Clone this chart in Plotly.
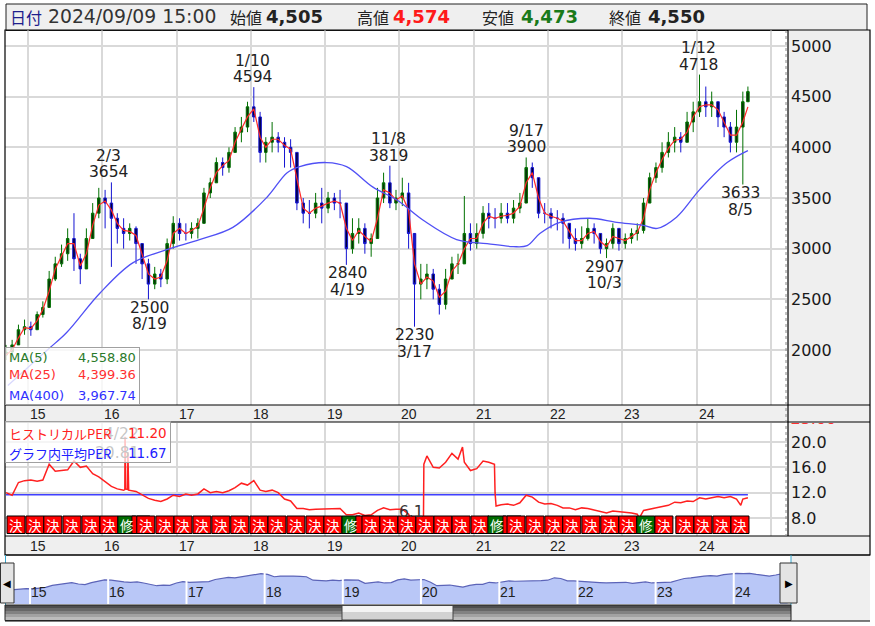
import pandas as pd
import plotly.graph_objects as go

W, H = 875, 626

# ---------------- data ----------------
header_date = "2024/09/09 15:00"
header_open, header_high, header_low, header_close = 4505, 4574, 4473, 4550

first_month_mid = "2014-09-15"
last_trade_date = "2024-09-09"
first_open = 1950

close_px = [
    1980, 2050, 2200, 2230,
    2200, 2350, 2420, 2700, 2850, 2950, 3100, 2900, 2800, 3100, 3350, 3500,
    3450, 3300, 3200, 3150, 3200, 3050, 2850, 2650, 2750, 2700, 3050, 3250,
    3150, 3150, 3200, 3250, 3550, 3650, 3850, 3800, 3950, 4150, 4200, 4400,
    4300, 3950, 4050, 4100, 4050, 4000, 3950, 3450, 3350, 3350, 3450, 3400,
    3500, 3450, 3450, 3000, 3150, 3200, 3050, 3100, 3500, 3650, 3450, 3500,
    3550, 3150, 2650, 2700, 2750, 2600, 2450, 2700, 2850, 2850, 3150, 3050,
    3150, 3350, 3300, 3300, 3350, 3300, 3400, 3450, 3800, 3700, 3350, 3350,
    3300, 3300, 3250, 3100, 3050, 3100, 3200, 3150, 3000, 3050, 3200, 3050,
    3100, 3150, 3180, 3450, 3700, 3800, 3950, 4050, 4100, 4050, 4250, 4350,
    4450, 4400, 4450, 4300, 4200, 4050, 4200, 4450, 4550]
high_px = [
    2050, 2100, 2250, 2300,
    2280, 2380, 2480, 2780, 2920, 3040, 3200, 3350, 2950, 3200, 3450, 3600,
    3580, 3654, 3350, 3300, 3250, 3220, 3050, 2900, 2820, 2800, 3100, 3320,
    3300, 3250, 3260, 3300, 3600, 3700, 3900, 3900, 4000, 4200, 4300, 4450,
    4594, 4350, 4100, 4250, 4150, 4100, 4080, 3950, 3500, 3480, 3550, 3600,
    3560, 3550, 3580, 3450, 3300, 3300, 3250, 3150, 3600, 3750, 3819, 3580,
    3700, 3650, 3000, 2850, 2850, 2800, 2650, 2800, 2920, 2950, 3520, 3250,
    3250, 3420, 3450, 3400, 3450, 3450, 3480, 3550, 3900, 3850, 3700, 3450,
    3400, 3380, 3350, 3250, 3200, 3220, 3300, 3250, 3150, 3100, 3250, 3200,
    3150, 3200, 3250, 3500, 3750, 3850, 4050, 4150, 4200, 4150, 4350, 4450,
    4718, 4600, 4550, 4450, 4350, 4250, 4370, 4550, 4600]
low_px = [
    1900, 1900, 2050, 2150,
    2140, 2200, 2320, 2420, 2680, 2820, 2880, 2780, 2650, 2850, 3100, 3300,
    3200, 2820, 3050, 3000, 3080, 2850, 2700, 2500, 2600, 2620, 2650, 3000,
    3080, 3080, 3100, 3100, 3250, 3500, 3650, 3720, 3750, 3950, 4050, 4150,
    4250, 3850, 3850, 3950, 3950, 3800, 3800, 3380, 3250, 3200, 3300, 3250,
    3350, 3380, 3300, 2840, 2950, 3050, 2950, 2920, 3100, 3450, 3400, 3380,
    3420, 3000, 2230, 2500, 2600, 2500, 2350, 2400, 2700, 2750, 2900, 2980,
    3000, 3100, 3200, 3200, 3250, 3250, 3250, 3350, 3450, 3600, 3300, 3250,
    3200, 3180, 3050, 3000, 2980, 3000, 3080, 3050, 2950, 2907, 3000, 2980,
    3000, 3050, 3080, 3150, 3450, 3650, 3750, 3900, 3950, 3950, 4050, 4150,
    4300, 4300, 4300, 4200, 4100, 3950, 3950, 3633, 4450]
ma25_px = [
    1950, 2000, 2120, 2220,
    2210, 2290, 2400, 2580, 2800, 2920, 3050, 3050, 2830, 2950, 3230, 3430,
    3470, 3380, 3250, 3180, 3170, 3130, 2950, 2750, 2700, 2720, 2880, 3150,
    3200, 3150, 3180, 3220, 3400, 3600, 3750, 3820, 3870, 4050, 4180, 4300,
    4380, 4100, 4000, 4080, 4080, 4020, 3980, 3700, 3400, 3350, 3400, 3420,
    3450, 3470, 3450, 3200, 3080, 3180, 3120, 3070, 3300, 3580, 3550, 3480,
    3520, 3380, 2850, 2650, 2720, 2680, 2520, 2580, 2780, 2850, 3000, 3100,
    3100, 3250, 3320, 3300, 3320, 3330, 3350, 3420, 3650, 3750, 3500, 3350,
    3320, 3300, 3270, 3170, 3080, 3080, 3150, 3170, 3070, 3020, 3120, 3100,
    3080, 3120, 3160, 3300, 3580, 3750, 3880, 3990, 4070, 4080, 4150, 4300,
    4400, 4420, 4420, 4370, 4250, 4120, 4120, 4250, 4399.36]

ma400_dates = ["2014-09-24", "2015-04-06", "2015-07-09", "2015-12-20", "2016-05-30",
               "2016-11-13", "2017-04-23", "2017-10-04", "2018-03-22", "2018-06-28",
               "2018-08-29", "2019-01-08", "2019-04-16", "2019-08-22", "2019-12-20",
               "2020-04-27", "2020-10-08", "2021-03-07", "2021-07-13", "2021-09-20",
               "2021-11-21", "2022-02-28", "2022-07-23", "2022-12-05", "2023-04-13",
               "2023-06-21", "2023-09-24", "2024-01-15", "2024-05-30", "2024-09-09"]
ma400_vals = [1650, 2000, 2170, 2560, 2860, 2990, 3090, 3210, 3510, 3750,
              3810, 3850, 3810, 3610, 3480, 3280, 3090, 3050, 3020, 3030,
              3150, 3260, 3300, 3260, 3230, 3200, 3310, 3580, 3850, 3967.74]

ma_names = ["MA(5)", "MA(25)", "MA(400)"]
ma_last = [4558.80, 4399.36, 3967.74]

mark_dates = ["2016-02-03", "2016-08-19", "2018-01-10", "2019-04-19", "2019-11-08",
              "2020-03-17", "2021-09-17", "2022-10-03", "2024-01-12", "2024-08-05"]
mark_labels = ["2/3", "8/19", "1/10", "4/19", "11/8", "3/17", "9/17", "10/3", "1/12", "8/5"]
mark_vals = [3654, 2500, 4594, 2840, 3819, 2230, 3900, 2907, 4718, 3633]
mark_kind = ["high", "low", "high", "low", "high", "low", "high", "low", "high", "low"]

per_dates = [
    "2014-09-15", "2014-10-15", "2014-11-15", "2014-12-15",
    "2015-01-15", "2015-02-15", "2015-03-15", "2015-04-15", "2015-05-15", "2015-06-15",
    "2015-07-15", "2015-08-15", "2015-09-15", "2015-10-15", "2015-11-15", "2015-12-15",
    "2016-01-15", "2016-02-15", "2016-03-15", "2016-04-15", "2016-04-21", "2016-04-22",
    "2016-04-26", "2016-05-05", "2016-05-06", "2016-05-10", "2016-06-15", "2016-07-15",
    "2016-08-15", "2016-09-15", "2016-10-15", "2016-11-15", "2016-12-15",
    "2017-01-15", "2017-02-15", "2017-03-15", "2017-04-15", "2017-05-15", "2017-06-15",
    "2017-07-15", "2017-08-15", "2017-09-15", "2017-10-15", "2017-11-15", "2017-12-15",
    "2018-01-15", "2018-02-15", "2018-03-15", "2018-04-15", "2018-05-15", "2018-06-15",
    "2018-07-15", "2018-08-15", "2018-09-15", "2018-10-15", "2018-11-15", "2018-12-15",
    "2019-01-15", "2019-02-15", "2019-03-15", "2019-04-15", "2019-05-15", "2019-06-15",
    "2019-07-15", "2019-08-15", "2019-09-15", "2019-10-15", "2019-11-15", "2019-12-15",
    "2020-01-15", "2020-02-15", "2020-03-17", "2020-04-15", "2020-04-28", "2020-04-30",
    "2020-05-15", "2020-06-15", "2020-07-15", "2020-08-15", "2020-09-15", "2020-10-15",
    "2020-11-06", "2020-11-15", "2020-12-15",
    "2021-01-15", "2021-02-15", "2021-03-15", "2021-04-12", "2021-04-15", "2021-04-20",
    "2021-05-15", "2021-06-15", "2021-07-15", "2021-08-15", "2021-09-15", "2021-10-15",
    "2021-11-15", "2021-12-15",
    "2022-01-15", "2022-02-15", "2022-03-15", "2022-04-15", "2022-05-15", "2022-06-15",
    "2022-07-15", "2022-08-15", "2022-09-15", "2022-10-15", "2022-11-15", "2022-12-15",
    "2023-01-15", "2023-02-15", "2023-03-15", "2023-03-25", "2023-04-15", "2023-05-15",
    "2023-06-15", "2023-07-15", "2023-08-15", "2023-09-15", "2023-10-15", "2023-11-15",
    "2023-12-15",
    "2024-01-15", "2024-02-15", "2024-03-15", "2024-04-15", "2024-05-15", "2024-06-15",
    "2024-07-15", "2024-08-05", "2024-08-15", "2024-09-09"]
per_vals = [
    12.0, 11.6, 13.6, 13.9,
    14.0, 13.8, 14.0, 16.5, 15.4, 15.5,
    15.6, 17.0, 16.0, 16.2, 15.0, 14.5,
    13.8, 13.0, 12.6, 12.4, 12.5, 20.81,
    12.6, 12.5, 18.4, 12.4, 12.2, 11.7,
    11.1, 10.8, 10.6, 11.0, 11.6,
    11.4, 11.8, 11.6, 11.8, 12.6, 12.0,
    12.2, 12.0, 12.3, 12.8, 13.5, 13.2,
    13.9, 12.4, 12.2, 12.4, 12.0, 11.0,
    10.7, 9.5, 9.5, 9.3, 9.4, 9.4,
    9.5, 9.4, 9.5, 8.5, 8.5, 8.8,
    8.4, 8.5, 9.2, 9.6, 9.3, 9.4,
    9.4, 8.6, 6.1, 7.2, 7.3, 16.5,
    17.8, 16.0, 15.9, 16.8, 18.2, 17.3,
    19.2, 16.8, 15.5,
    15.8, 17.0, 16.8, 16.5, 12.0, 9.9,
    10.1, 10.2, 10.0, 10.4, 11.6, 11.3,
    10.5, 10.2,
    10.3, 10.0, 9.6, 9.6, 9.3, 9.6,
    9.5, 9.3, 9.0, 8.8, 9.1, 9.0,
    9.0, 8.8, 8.6, 8.0, 9.2, 9.4,
    9.6, 9.8, 10.0, 10.5, 10.4, 10.7,
    10.6,
    11.2, 11.0, 11.2, 11.4, 11.2, 11.4,
    11.0, 10.0, 11.0, 11.2]
per_avg = 11.67
per_last = 11.20
per_max_date, per_max_label, per_max_val = "2016-04-22", "4/22", 20.81
per_min_date, per_min_val = "2020-03-17", 6.1
per_top_label = "25.00"

event_dates = [
    "2014-11-03", "2015-02-04", "2015-05-03", "2015-08-05", "2015-11-06", "2016-02-03",
    "2016-05-01", "2016-07-09", "2016-08-02", "2016-11-04", "2017-02-01", "2017-05-05",
    "2017-08-06", "2017-11-07", "2018-02-09", "2018-05-09", "2018-08-10", "2018-11-12",
    "2019-02-08", "2019-05-08", "2019-07-15", "2019-08-14", "2019-11-10", "2020-02-07",
    "2020-05-05", "2020-08-02", "2020-10-30", "2021-01-31", "2021-04-24", "2021-07-07",
    "2021-07-27", "2021-10-28", "2022-01-29", "2022-04-27", "2022-07-30", "2022-10-31",
    "2023-01-28", "2023-04-26", "2023-07-24", "2023-11-04", "2024-02-01", "2024-05-04",
    "2024-08-01"]
event_kind = [
    "決", "決", "決", "決", "決", "決",
    "修", "決", "決", "決", "決", "決",
    "決", "決", "決", "決", "決", "決",
    "決", "修", "決", "決", "決", "決",
    "決", "決", "決", "決", "修", "決",
    "決", "決", "決", "決", "決", "決",
    "決", "修", "決", "決", "決", "決",
    "決"]

years = list(range(2015, 2025))
price_ticks = [2000, 2500, 3000, 3500, 4000, 4500, 5000]
per_ticks = [8.0, 12.0, 16.0, 20.0]

# ---------------- geometry helpers ----------------
T0 = pd.Timestamp("2015-01-01")
MAIN_PX0, MAIN_PPY = 28.0, 74.3
NAV_PX0, NAV_PPY = 30.0, 78.2


def t_at(px_x, px0, ppy):
    return T0 + pd.Timedelta(days=(px_x - px0) / ppy * 365.25)


def fx(x):
    return x / W


def fy(y):
    return 1 - y / H


main_range = [t_at(5, MAIN_PX0, MAIN_PPY), t_at(787, MAIN_PX0, MAIN_PPY)]
nav_range = [t_at(14, NAV_PX0, NAV_PPY), t_at(790, NAV_PX0, NAV_PPY)]
px_days = 365.25 / MAIN_PPY  # days per pixel on the main time axis

months = pd.date_range(first_month_mid, periods=len(close_px), freq=pd.DateOffset(months=1))
dates = [min(d, pd.Timestamp(last_trade_date)) for d in months]
open_px = [first_open] + close_px[:-1]

JP = "Noto Sans CJK JP"
DV = "DejaVu Sans"

fig = go.Figure()

# main price panel
fig.add_trace(go.Candlestick(
    x=dates, open=open_px, high=high_px, low=low_px, close=close_px,
    increasing=dict(line=dict(color="#007000", width=1), fillcolor="#0a300a"),
    decreasing=dict(line=dict(color="#1414d2", width=1), fillcolor="#00003a"),
    whiskerwidth=0, xaxis="x", yaxis="y", showlegend=False, hoverinfo="skip"))
fig.add_trace(go.Scatter(x=dates, y=ma25_px, mode="lines",
                         line=dict(color="#ff2a2a", width=1.2),
                         xaxis="x", yaxis="y", showlegend=False, hoverinfo="skip"))
fig.add_trace(go.Scatter(x=ma400_dates, y=ma400_vals, mode="lines",
                         line=dict(color="#5050f5", width=1.3, shape="spline"),
                         xaxis="x", yaxis="y", showlegend=False, hoverinfo="skip"))

# PER panel
fig.add_trace(go.Scatter(x=[per_dates[0], per_dates[-1]], y=[per_avg, per_avg], mode="lines",
                         line=dict(color="#4040ff", width=1.5),
                         xaxis="x2", yaxis="y2", showlegend=False, hoverinfo="skip"))
fig.add_trace(go.Scatter(x=per_dates, y=per_vals, mode="lines",
                         line=dict(color="#ff2020", width=1.5),
                         xaxis="x2", yaxis="y2", showlegend=False, hoverinfo="skip"))

# navigator
fig.add_trace(go.Scatter(x=dates, y=close_px, mode="lines", fill="tozeroy",
                         line=dict(color="#5c64b8", width=1.2), fillcolor="#b9c7f7",
                         xaxis="x3", yaxis="y3", showlegend=False, hoverinfo="skip"))

# clipped top label of PER axis
fig.add_trace(go.Scatter(x=[0.03], y=[1.03], mode="text", text=[per_top_label],
                         textposition="middle right", cliponaxis=True,
                         textfont=dict(family=DV, size=16, color="#ff3030"),
                         xaxis="x4", yaxis="y4", showlegend=False, hoverinfo="skip"))

shapes = []


def rect(x0, y0, x1, y1, fill=None, line="#000000", lw=1, layer="below", **kw):
    d = dict(type="rect", xref="paper", yref="paper", x0=fx(x0), x1=fx(x1),
             y0=fy(y1), y1=fy(y0), layer=layer,
             line=dict(color=line, width=lw) if line else dict(width=0))
    if fill:
        d["fillcolor"] = fill
    d.update(kw)
    shapes.append(d)


def hline(x0, x1, y, color="#000", lw=1, layer="above", dash="solid"):
    shapes.append(dict(type="line", xref="paper", yref="paper", x0=fx(x0), x1=fx(x1),
                       y0=fy(y), y1=fy(y), layer=layer, line=dict(color=color, width=lw, dash=dash)))


def vline(x, y0, y1, color="#000", lw=1, layer="above", dash="solid"):
    shapes.append(dict(type="line", xref="paper", yref="paper", x0=fx(x), x1=fx(x),
                       y0=fy(y0), y1=fy(y1), layer=layer, line=dict(color=color, width=lw, dash=dash)))


# header
rect(6, 4, 867, 30.5, fill="#efefef", line="#222", lw=1)
# right axis background
rect(788, 30, 870, 536, fill="#efefef", line=None)
# x label strips
rect(5, 405, 870, 422, fill="#efefef", line=None)
rect(5, 536, 870, 555, fill="#efefef", line=None)
# navigator right area
rect(791, 555, 870, 621, fill="#efefef", line=None)
hline(5, 870, 405, lw=1.2)
hline(5, 870, 422, lw=1.2)
hline(5, 870, 536, lw=1.2)
hline(5, 870, 555, lw=1.2)
vline(788, 30, 536, lw=1.2)
vline(786, 30, 536, color="#888", lw=1, dash="dot")
rect(5, 30, 870, 555, line="#000", lw=1.2, layer="above")
hline(5, 870, 621, lw=1.2)
vline(5.5, 555, 605, color="#39a9cf", lw=1)
vline(791, 555, 605, color="#39a9cf", lw=1)

# earnings boxes in PER panel
half = pd.Timedelta(days=9 * px_days)
ev_ts = [pd.Timestamp(d) for d in event_dates]
for i, (t, k) in enumerate(zip(ev_ts, event_kind)):
    shapes.append(dict(type="rect", xref="x2", yref="paper", x0=t - half, x1=t + half,
                       y0=fy(533.5), y1=fy(516), layer="above",
                       fillcolor="#ff0000" if k == "決" else "#006a00",
                       line=dict(color="#000", width=1)))

# navigator year separators
for yr in years:
    shapes.append(dict(type="line", xref="x3", yref="paper", x0=f"{yr}-01-01", x1=f"{yr}-01-01",
                       y0=fy(604), y1=fy(560), layer="above", line=dict(color="#ffffff", width=2)))

# scrollbar
for k, c in enumerate(["#4e4e4e", "#676767", "#828282", "#a2a2a2", "#bcbcbc"]):
    rect(5, 605 + k * 3, 791, 608 + k * 3, fill=c, line=None, layer="above")
rect(5, 605, 791, 620.5, line="#222", lw=1, layer="above")
rect(342, 605.5, 453, 612, fill="#f4f4f4", line=None, layer="above")
rect(342, 612, 453, 620, fill="#d2d2d2", line=None, layer="above")
rect(342, 605.5, 453, 620, line="#444", lw=1, layer="above")
# navigator buttons
rect(0.5, 563, 14, 603, fill="#e4e4e4", line="#333", lw=1, layer="above")
rect(780, 563, 797, 603, fill="#e4e4e4", line="#333", lw=1, layer="above")

anns = []


def ann(text, x, y, size, color="#222", family=DV, xanchor="left", yanchor="middle",
        xref="paper", yref="paper", **kw):
    d = dict(text=text, x=x, y=y, xref=xref, yref=yref, xanchor=xanchor, yanchor=yanchor,
             showarrow=False, font=dict(family=family, size=size, color=color))
    d.update(kw)
    anns.append(d)


# header texts
hy = fy(17)
ann("日付", fx(8), hy, 16, color="#1e1e8c", family=JP)
ann(header_date, fx(46), hy, 18.8, color="#333", family=DV)
ann("始値", fx(228), hy, 16, color="#222", family=JP)
ann(f"<b>{header_open:,}</b>", fx(264), hy, 18, color="#222", family=DV)
ann("高値", fx(355), hy, 16, color="#222", family=JP)
ann(f"<b>{header_high:,}</b>", fx(391), hy, 18, color="#ff1a1a", family=DV)
ann("安値", fx(480), hy, 16, color="#222", family=JP)
ann(f"<b>{header_low:,}</b>", fx(519), hy, 18, color="#1a7a1a", family=DV)
ann("終値", fx(607), hy, 16, color="#222", family=JP)
ann(f"<b>{header_close:,}</b>", fx(646), hy, 18, color="#222", family=DV)

# year labels in strips and navigator
for yr in years:
    lab = f"{yr % 100:02d}"
    ann(lab, f"{yr}-01-01", fy(414), 14, xref="x", xanchor="center", xshift=10,
        family="Liberation Sans", color="#222")
    ann(lab, f"{yr}-01-01", fy(545.5), 14, xref="x2", xanchor="center", xshift=10,
        family="Liberation Sans", color="#222")
    ann(lab, f"{yr}-01-01", fy(592), 14, xref="x3", xanchor="center", xshift=9,
        family="Liberation Sans", color="#222")

# high / low marks
for d, lab, v, k in zip(mark_dates, mark_labels, mark_vals, mark_kind):
    s = 1 if k == "high" else -1
    ann(str(v), d, v, 15.5, xref="x", yref="y", xanchor="center", yshift=s * (10 if s > 0 else 8.5))
    ann(lab, d, v, 15.5, xref="x", yref="y", xanchor="center", yshift=s * (26.5 if s > 0 else 25))

# PER extreme labels (shown faintly behind the legend box, as in the reference)
ann(per_max_label, per_max_date, per_max_val, 15.5, xref="x2", yref="y2", xanchor="center",
    xshift=-4, yshift=3, color="#333")
ann(f"{per_max_val:.2f}", per_max_date, per_max_val, 15.5, xref="x2", yref="y2", xanchor="center",
    xshift=-8, yshift=-16, color="#333")
ann(f"{per_min_val}", per_min_date, per_min_val, 15.5, xref="x2", yref="y2", xanchor="center",
    xshift=-3, yshift=18, color="#333")

# event box labels (skip those covered by the next box)
for i, (t, k) in enumerate(zip(ev_ts, event_kind)):
    if i + 1 < len(ev_ts) and (ev_ts[i + 1] - t) < pd.Timedelta(days=12 * px_days):
        continue
    ann(k, t, fy(525), 13.5, xref="x2", xanchor="center", family=JP, color="#ffffff")

# main legend box
anns.append(dict(text=" ", x=fx(72.5), y=fy(376), xref="paper", yref="paper", showarrow=False,
                 xanchor="center", yanchor="middle", width=133, height=56, borderpad=0,
                 bgcolor="rgba(255,255,255,0.78)", bordercolor="#a0a0a0", borderwidth=1))
ma_colors = ["#2a7a2a", "#ff3030", "#3030ff"]
for nm, v, c, yy in zip(ma_names, ma_last, ma_colors, [357, 375, 395]):
    ann(nm, fx(7), fy(yy), 13, color=c, family=DV)
    ann(f"{v:,.2f}", fx(138), fy(yy), 13, color=c, family=DV, xanchor="right")

# PER legend box
anns.append(dict(text=" ", x=fx(88), y=fy(441.5), xref="paper", yref="paper", showarrow=False,
                 xanchor="center", yanchor="middle", width=164, height=40, borderpad=0,
                 bgcolor="rgba(255,255,255,0.72)", bordercolor="#a0a0a0", borderwidth=1))
ann("ヒストリカルPER", fx(7), fy(433), 13, color="#ff2020", family=JP)
ann(f"{per_last:.2f}", fx(169), fy(433), 13.5, color="#ff2020", family=DV, xanchor="right")
ann("グラフ内平均PER", fx(7), fy(453), 13, color="#2020ff", family=JP)
ann(f"{per_avg:.2f}", fx(169), fy(453), 13.5, color="#2020ff", family=DV, xanchor="right")

# navigator arrows
ann("◀", fx(7.2), fy(583), 10, color="#000", xanchor="center", family=DV)
ann("▶", fx(789), fy(583), 10, color="#000", xanchor="center", family=DV)

grid = "#d9d9d9"
tickfont = dict(family=DV, size=16, color="#1a1a1a")
fig.update_layout(
    width=W, height=H, margin=dict(l=0, r=0, t=0, b=0), autosize=False,
    paper_bgcolor="#ffffff", plot_bgcolor="rgba(0,0,0,0)",
    font=dict(family=DV), showlegend=False,
    xaxis=dict(domain=[fx(5), fx(787)], range=main_range, type="date", anchor="y",
               tick0="2015-01-01", dtick="M12", showgrid=True, gridcolor=grid, gridwidth=2,
               showticklabels=False, ticks="", zeroline=False, showline=False,
               rangeslider=dict(visible=False), fixedrange=True),
    yaxis=dict(domain=[fy(405), fy(30)], range=[1457, 5158], anchor="x", side="right",
               tickvals=price_ticks, showgrid=True, gridcolor=grid, gridwidth=2,
               ticks="", zeroline=False, showline=False, tickfont=tickfont,
               ticklabelstandoff=3, fixedrange=True),
    xaxis2=dict(domain=[fx(5), fx(787)], range=main_range, type="date", anchor="y2",
                tick0="2015-01-01", dtick="M12", showgrid=True, gridcolor=grid, gridwidth=2,
                showticklabels=False, ticks="", zeroline=False, showline=False, fixedrange=True),
    yaxis2=dict(domain=[fy(536), fy(423)], range=[5.16, 23.0], anchor="x2", side="right",
                tickvals=per_ticks, ticktext=[f"{v:.1f}" for v in per_ticks],
                showgrid=True, gridcolor=grid, gridwidth=2, ticks="", zeroline=False,
                showline=False, tickfont=tickfont, ticklabelstandoff=3, fixedrange=True),
    xaxis3=dict(domain=[fx(14), fx(790)], range=nav_range, type="date", anchor="y3",
                visible=False, fixedrange=True),
    yaxis3=dict(domain=[fy(604), fy(560)], range=[0, 6380], anchor="x3",
                visible=False, fixedrange=True),
    xaxis4=dict(domain=[fx(788), fx(870)], range=[0, 1], anchor="y4", visible=False,
                fixedrange=True),
    yaxis4=dict(domain=[fy(536), fy(423)], range=[0, 1], anchor="x4", visible=False,
                fixedrange=True),
    shapes=shapes, annotations=anns,
)

fig.write_html("out.html")
